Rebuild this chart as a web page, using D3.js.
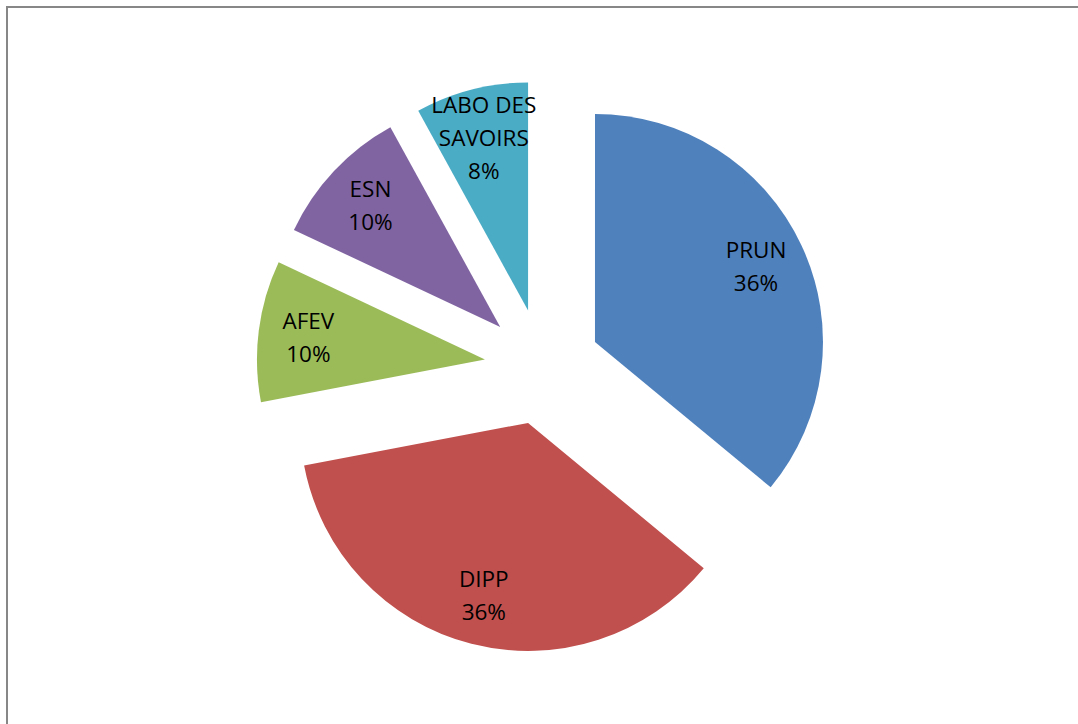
<!DOCTYPE html>
<html><head><meta charset="utf-8">
<script src="https://cdn.jsdelivr.net/npm/d3@7"></script>
<style>html,body{margin:0;padding:0;background:#fff;overflow:hidden}</style>
</head><body>
<svg id="chart" width="1078" height="724"></svg>
<script>
const categories = ["PRUN", "DIPP", "AFEV", "ESN", "LABO DES SAVOIRS"];
const values = [36, 36, 10, 10, 8];
const labelLines = [["PRUN"], ["DIPP"], ["AFEV"], ["ESN"], ["LABO DES", "SAVOIRS"]];
const colors = ["#4F81BD", "#C0504D", "#9BBB59", "#8064A2", "#4BACC6"];

const svg = d3.select("#chart");
svg.append("rect").attr("x", 7).attr("y", 7).attr("width", 1200).attr("height", 900)
  .attr("fill", "#fff").attr("stroke", "#878787").attr("stroke-width", 2);

const cx = 542.5, cy = 366.7, R = 228, explode = 58;
const pie = d3.pie().sort(null).value(d => d)(values);
const arc = d3.arc().innerRadius(0).outerRadius(R);
const labelArc = d3.arc().innerRadius(178).outerRadius(178);

const g = svg.append("g").attr("transform", `translate(${cx},${cy})`);
const slices = g.selectAll("g.slice").data(pie).enter().append("g")
  .attr("transform", d => {
    const a = (d.startAngle + d.endAngle) / 2;
    return `translate(${explode * Math.sin(a)},${-explode * Math.cos(a)})`;
  });
slices.append("path").attr("d", arc).attr("fill", (d, i) => colors[i]);

const lh = 33;
slices.each(function(d, i) {
  const [x, y] = labelArc.centroid(d);
  const lines = labelLines[i].concat([values[i] + "%"]);
  const t = d3.select(this).append("text")
    .attr("text-anchor", "middle")
    .attr("font-family", "'Open Sans', sans-serif")
    .attr("font-size", 22.5)
    .attr("fill", "#000");
  lines.forEach((ln, k) => {
    t.append("tspan").attr("x", x)
      .attr("y", y + (k - (lines.length - 1) / 2) * lh)
      .attr("dy", "0.36em").text(ln);
  });
});
</script>
</body></html>
